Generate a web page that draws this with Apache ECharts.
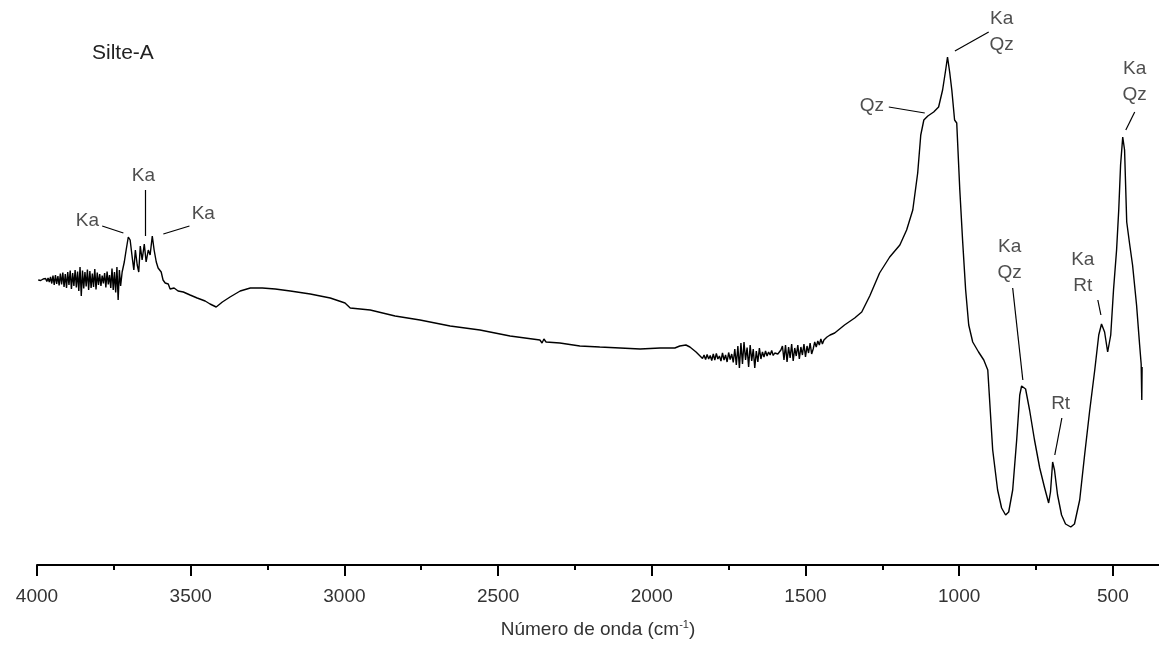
<!DOCTYPE html>
<html>
<head>
<meta charset="utf-8">
<title>Silte-A FTIR</title>
<script src="https://cdn.jsdelivr.net/npm/echarts@6/dist/echarts.min.js"></script>
<style>
  html, body { margin: 0; padding: 0; background: #fff; }
  #main { width: 1159px; height: 653px; }
</style>
</head>
<body>
<div id="main"></div>
<script>
const sampleName = 'Silte-A';
const majorTicks = [4000, 3500, 3000, 2500, 2000, 1500, 1000, 500];
const minorTicks = [3750, 3250, 2750, 2250, 1750, 1250, 750];

// noisy start of the spectrum, 3996 -> 3728 cm-1 every 4 cm-1
const noiseHighStart = 3996, noiseHighStep = 4;
const noiseHighT = [
  57, 57.1, 56.9, 57, 57.2, 56.8, 57.3, 56.7, 57.4, 56.6,
  57.6, 56.3, 57.9, 56.0, 58.0, 56.2, 57.8, 55.9, 58.3, 56.1,
  58.5, 55.6, 58.2, 55.4, 58.6, 56.0, 58.9, 55.2, 58.4, 55.8,
  59.0, 55.5, 58.7, 54.8, 59.6, 53.8, 58.9, 55.3, 58.6, 55.7,
  59.1, 55.0, 58.8, 55.4, 58.3, 55.6, 59.2, 55.1, 58.5, 56.0,
  58.2, 55.8, 57.9, 56.3, 58.4, 55.5, 58.7, 56.1, 58.0, 55.4,
  59.3, 55.0, 58.6, 54.5, 59.6, 53.0, 59.0, 55.8
];

// OH bands of kaolinite and the long flat stretch
const midWave = [3723, 3716, 3710, 3703, 3697, 3690, 3685, 3680, 3674, 3669,
  3664, 3658, 3651, 3645, 3638, 3632, 3625, 3619, 3612, 3606,
  3596, 3590, 3583, 3573, 3567, 3554, 3541, 3524, 3502, 3479,
  3453, 3437, 3417, 3397, 3372, 3339, 3306, 3267, 3225, 3176,
  3111, 3046, 2998, 2981, 2916, 2835, 2754, 2656, 2559, 2461,
  2364, 2357, 2351, 2344, 2299, 2234, 2169, 2103, 2038, 1973,
  1925, 1909, 1889, 1876, 1856, 1843];
const midT = [58.6, 60.6, 63, 65.6, 65, 61.4, 59, 63, 60, 58.6,
  63.8, 61, 64.2, 60.6, 63, 62, 65.8, 63, 60.6, 59.4,
  58.6, 57, 56.4, 56.2, 55.2, 55.4, 54.8, 54.6, 54, 53.4,
  52.8, 52.2, 51.6, 52.6, 53.6, 54.8, 55.4, 55.4, 55.2, 54.8,
  54.2, 53.4, 52.4, 51.4, 51, 49.8, 49, 47.8, 47, 45.8,
  45, 44.4, 45.2, 44.6, 44.4, 43.8, 43.6, 43.4, 43.2, 43.4,
  43.4, 43.8, 44, 43.6, 42.6, 41.8];

// water vapour noise, 1840 -> 1420 cm-1 every 5 cm-1
const noiseLowStart = 1840, noiseLowStep = 5;
const noiseLowT = [
  41.8, 41.3, 42.0, 41.1, 42.1, 41.2, 41.9, 40.9, 42.2, 41.0, 42.3, 41.2, 41.8, 40.8, 42.4, 41.0, 42.0, 40.6, 42.5, 41.1, 42.2,
  40.5, 43.2, 40.0, 43.8, 39.4, 44.4, 40.2, 44.6, 41.0, 43.5, 39.6, 44.0, 40.8, 43.2, 39.4, 42.8, 40.6, 43.4, 41.2, 42.6,
  41.6, 42.8, 41.8, 42.6, 42.0, 42.9, 41.9, 42.4, 42.8, 42.2, 42.5, 43.0,
  43.8, 41.0, 44.0, 40.6, 43.6, 41.4, 44.2, 40.8, 43.4, 41.8, 44.0, 41.2, 43.6, 42.0, 44.2, 41.6, 43.8, 42.4, 44.4, 42.2,
  43.2, 44.6, 43.6, 44.8, 44.0, 45.2, 44.2, 45.0, 44.8, 45.6, 45.2, 46.0
];

// fingerprint region
const fpWave = [1405, 1373, 1340, 1317, 1291, 1259, 1226, 1193, 1171, 1151,
  1135, 1125, 1115, 1102, 1083, 1067, 1054, 1044, 1038, 1031,
  1024, 1015, 1008, 998, 989, 979, 969, 956, 937, 920,
  914, 907, 891, 875, 862, 849, 839, 826, 813, 803,
  797, 784, 771, 755, 738, 722, 709, 703, 696, 690,
  680, 667, 654, 637, 625, 608, 592, 576, 559, 546,
  537, 527, 517, 507, 498, 488, 481, 475, 468, 462,
  455, 446, 436, 423, 413, 408, 406, 405];
const fpT = [46.4, 48, 49.4, 50.6, 53.8, 58.4, 61.6, 64, 67, 71,
  78.4, 86, 89, 89.8, 90.6, 91.6, 95, 99, 101.6, 98.6,
  95, 89, 88.4, 75, 65, 55, 48, 44.6, 42.6, 41,
  41.4, 39, 23, 15, 11.4, 10, 10.6, 15, 25, 34,
  35.8, 35.2, 31, 25, 19.4, 15.4, 12.4, 14.6, 20.6, 19,
  14, 10, 8.2, 7.6, 8.2, 13, 22, 30.6, 39, 46,
  48.2, 46.6, 42.6, 46, 55, 63, 71, 80, 85.6, 83,
  68.6, 64.4, 60, 52, 44, 40.2, 33, 39.6];

// band assignments
const annoText = ['Ka', 'Ka', 'Ka', 'Ka\nQz', 'Qz', 'Ka\nQz', 'Ka\nQz', 'Ka\nRt', 'Rt'];
const annoWave = [3836, 3654, 3459, 862, 1284, 429, 836, 598, 670];
const annoT = [68.8, 77.8, 70.2, 106.6, 91.8, 96.6, 61, 58.4, 32.2];
const leaderStart = [[3788, 67.8], [3648, 75], [3589, 66.2], [1014, 102.8], [1229, 91.6], [429, 90.6], [826, 55.4], [549, 53], [666, 29.4]];
const leaderEnd = [[3719, 66.4], [3648, 65.8], [3504, 67.8], [904, 106.6], [1112, 90.4], [458, 87], [793, 37], [539, 50], [689, 22]];

function evenRun(start, step, values) {
  return values.map((t, i) => [start - i * step, t]);
}
function pairs(xs, ys) {
  return xs.map((x, i) => [x, ys[i]]);
}

const spectrum = [].concat(
  evenRun(noiseHighStart, noiseHighStep, noiseHighT),
  pairs(midWave, midT),
  evenRun(noiseLowStart, noiseLowStep, noiseLowT),
  pairs(fpWave, fpT)
);

const font = 'Arial, "Liberation Sans", sans-serif';
const chart = echarts.init(document.getElementById('main'));

chart.setOption({
  animation: false,
  backgroundColor: '#fff',
  title: {
    text: sampleName,
    left: 92,
    top: 43,
    padding: 0,
    textStyle: { fontSize: 21, fontWeight: 'normal', color: '#222', fontFamily: font }
  },
  grid: { left: 37, right: 0, top: 15, bottom: 88 },
  xAxis: [
    {
      type: 'value',
      inverse: true,
      min: 350,
      max: 4000,
      position: 'bottom',
      name: 'Número de onda (cm{sup|-1})',
      nameLocation: 'middle',
      nameGap: 54,
      nameTextStyle: {
        fontSize: 19, color: '#333', fontFamily: font,
        rich: { sup: { fontSize: 11, color: '#333', fontFamily: font, padding: [0, 0, 11, 0] } }
      },
      axisLine: { show: true, lineStyle: { color: '#000', width: 2 } },
      axisTick: { show: true, customValues: majorTicks, length: 11, lineStyle: { color: '#000', width: 2 } },
      axisLabel: {
        customValues: majorTicks,
        formatter: v => String(v),
        fontSize: 19, color: '#333', margin: 22, fontFamily: font
      },
      splitLine: { show: false }
    },
    {
      type: 'value',
      inverse: true,
      min: 350,
      max: 4000,
      position: 'bottom',
      axisLine: { show: false },
      axisTick: { show: true, customValues: minorTicks, length: 5, lineStyle: { color: '#000', width: 2 } },
      axisLabel: { show: false },
      splitLine: { show: false }
    }
  ],
  yAxis: { type: 'value', show: false, min: 0, max: 110 },
  series: [
    {
      name: sampleName,
      type: 'line',
      data: spectrum,
      showSymbol: false,
      symbol: 'none',
      sampling: false,
      lineStyle: { color: '#000', width: 1.4 },
      silent: true
    },
    {
      type: 'lines',
      coordinateSystem: 'cartesian2d',
      data: leaderStart.map((p, i) => ({ coords: [p, leaderEnd[i]] })),
      lineStyle: { color: '#000', width: 1.2, opacity: 1 },
      silent: true
    },
    {
      type: 'scatter',
      symbolSize: 0,
      data: annoWave.map((w, i) => [w, annoT[i], annoText[i]]),
      label: {
        show: true,
        position: 'inside',
        formatter: p => p.data[2],
        fontSize: 19,
        lineHeight: 26,
        color: '#222',
        fontFamily: font
      },
      silent: true
    }
  ]
});
</script>
</body>
</html>
